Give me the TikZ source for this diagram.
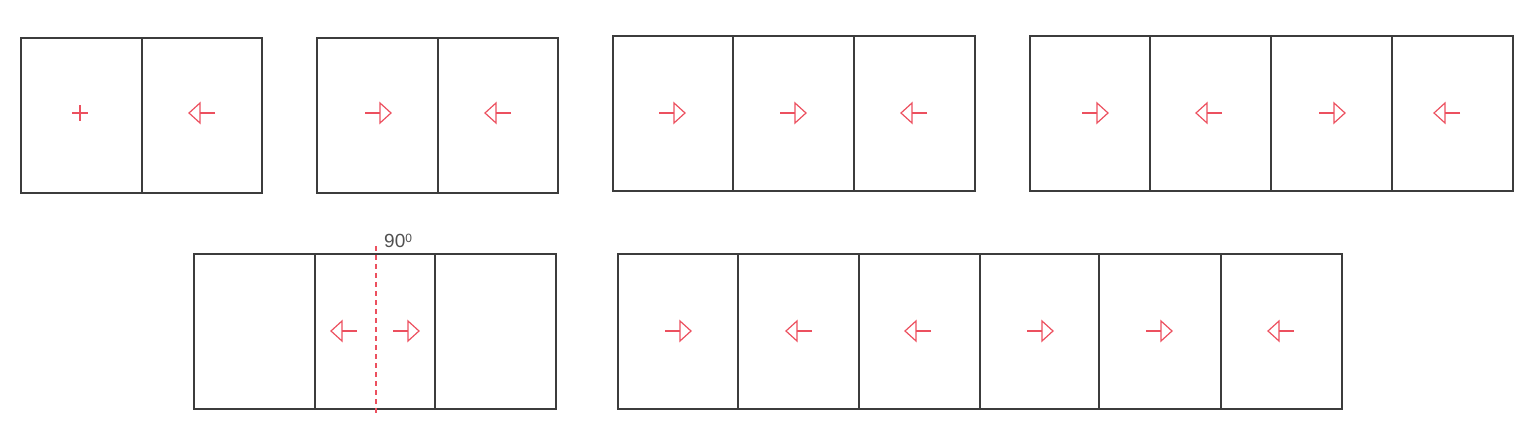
\documentclass[tikz,border=0pt]{standalone}
\usepackage{fontspec}
\setmainfont{Liberation Sans}
\definecolor{arr}{RGB}{236,80,95}
\definecolor{frm}{RGB}{60,60,60}
\definecolor{txt}{RGB}{80,80,80}
\tikzset{
  panel/.style={draw=frm, line width=1.1pt},
  arrowline/.style={draw=arr, line width=1.2pt, line join=miter},
  axisdash/.style={draw=arr, line width=1.6pt},
  pics/rarr/.style={code={
    \draw[arrowline] (-13pt,0) -- (2pt,0);
    \draw[arrowline] (2pt,10pt) -- (13pt,0) -- (2pt,-10pt) -- cycle;
  }},
  pics/larr/.style={code={
    \draw[arrowline] (13pt,0) -- (-2pt,0);
    \draw[arrowline] (-2pt,10pt) -- (-13pt,0) -- (-2pt,-10pt) -- cycle;
  }},
  pics/plus/.style={code={
    \draw[arrowline] (-8pt,0) -- (8pt,0);
    \draw[arrowline] (0,-8pt) -- (0,8pt);
  }},
}
\begin{document}
\begin{tikzpicture}[x=1pt,y=-1pt]
\useasboundingbox (0,0) rectangle (1536,438);
% group 1
\draw[panel] (21,38) rectangle (262,193) (142,38) -- (142,193);
\pic at (80,113) {plus};
\pic at (202,113) {larr};
% group 2
\draw[panel] (317,38) rectangle (558,193) (438,38) -- (438,193);
\pic at (378,113) {rarr};
\pic at (498,113) {larr};
% group 3
\draw[panel] (613,36) rectangle (975,191) (733,36) -- (733,191) (854,36) -- (854,191);
\pic at (672,113) {rarr};
\pic at (793,113) {rarr};
\pic at (914,113) {larr};
% group 4
\draw[panel] (1030,36) rectangle (1513,191) (1150,36) -- (1150,191) (1271,36) -- (1271,191) (1392,36) -- (1392,191);
\pic at (1095,113) {rarr};
\pic at (1209,113) {larr};
\pic at (1332,113) {rarr};
\pic at (1447,113) {larr};
% group 5
\draw[panel] (194,254) rectangle (556,409) (315,254) -- (315,409) (435,254) -- (435,409);
\foreach \yy in {246,255,...,414} {
  \draw[axisdash] (376,\yy) -- (376,\yy+5);
}
\pic at (344,331) {larr};
\pic at (406,331) {rarr};
\node[anchor=base west, inner sep=0pt, text=txt, font=\fontsize{19}{19}\selectfont] (lbl) at (384,248) {90\raisebox{5.5pt}{\fontsize{12}{12}\selectfont 0}};
% group 6
\draw[panel] (618,254) rectangle (1342,409) (738,254) -- (738,409) (859,254) -- (859,409) (980,254) -- (980,409) (1099,254) -- (1099,409) (1221,254) -- (1221,409);
\pic at (678,331) {rarr};
\pic at (799,331) {larr};
\pic at (918,331) {larr};
\pic at (1040,331) {rarr};
\pic at (1159,331) {rarr};
\pic at (1281,331) {larr};
\end{tikzpicture}
\end{document}
